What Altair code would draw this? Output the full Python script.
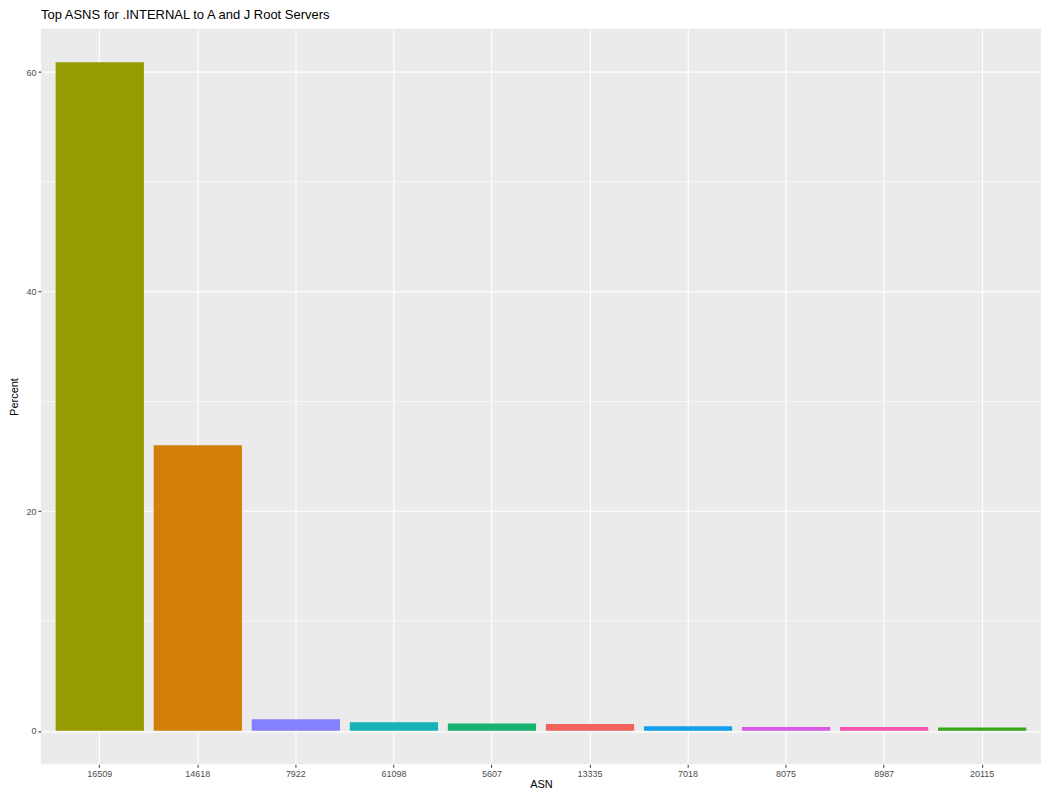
import altair as alt
import pandas as pd

asn = ["16509", "14618", "7922", "61098", "5607", "13335", "7018", "8075", "8987", "20115"]
percent = [60.9, 26.0, 1.05, 0.78, 0.68, 0.62, 0.42, 0.36, 0.35, 0.30]
colors = ["#959B00", "#D17F05", "#8480FF", "#17B3B9", "#17B36E",
          "#F2625C", "#139FEC", "#DA57E8", "#F654B1", "#38A61A"]
major_y = [0, 20, 40, 60]
minor_y = [10, 30, 50]

df = pd.DataFrame({"ASN": asn, "Percent": percent})
minor_df = pd.DataFrame({"v": minor_y})

FONT = "Liberation Sans"
ydom = [-3.045, 63.945]

bars = alt.Chart(df).mark_bar().encode(
    x=alt.X("ASN:N", sort=asn, title="ASN",
            scale=alt.Scale(paddingInner=0.1, paddingOuter=0.15),
            axis=alt.Axis(labelAngle=0, grid=True)),
    y=alt.Y("Percent:Q", title="Percent",
            scale=alt.Scale(domain=ydom, nice=False, zero=False),
            axis=alt.Axis(values=major_y, grid=True)),
    y2=alt.datum(0),
    color=alt.Color("ASN:N", scale=alt.Scale(domain=asn, range=colors), legend=None),
)

minor = alt.Chart(minor_df).mark_rule(color="white", strokeWidth=0.55).encode(
    y=alt.Y("v:Q", scale=alt.Scale(domain=ydom, nice=False, zero=False))
)

chart = alt.layer(minor, bars).properties(
    width=1002, height=737,
    padding={"left": 0, "top": 0, "right": 0, "bottom": 0},
    title=alt.TitleParams("Top ASNS for .INTERNAL to A and J Root Servers",
                          anchor="start", frame="group", fontSize=13,
                          fontWeight="normal", font=FONT, color="black", offset=7),
).configure_view(fill="#EBEBEB", stroke=None).configure_axis(
    domain=False, tickColor="#333333", tickSize=3, tickWidth=1,
    labelColor="#4D4D4D", labelFontSize=9, labelFont=FONT, labelPadding=2,
    titleFont=FONT, titleFontSize=11, titleFontWeight="normal", titleColor="black",
    gridColor="white", gridWidth=1.1, gridOpacity=1,
).configure_axisY(titlePadding=6).configure_axisX(titlePadding=0)

chart.save("out.html", embed_options={"renderer": "svg", "actions": False})
